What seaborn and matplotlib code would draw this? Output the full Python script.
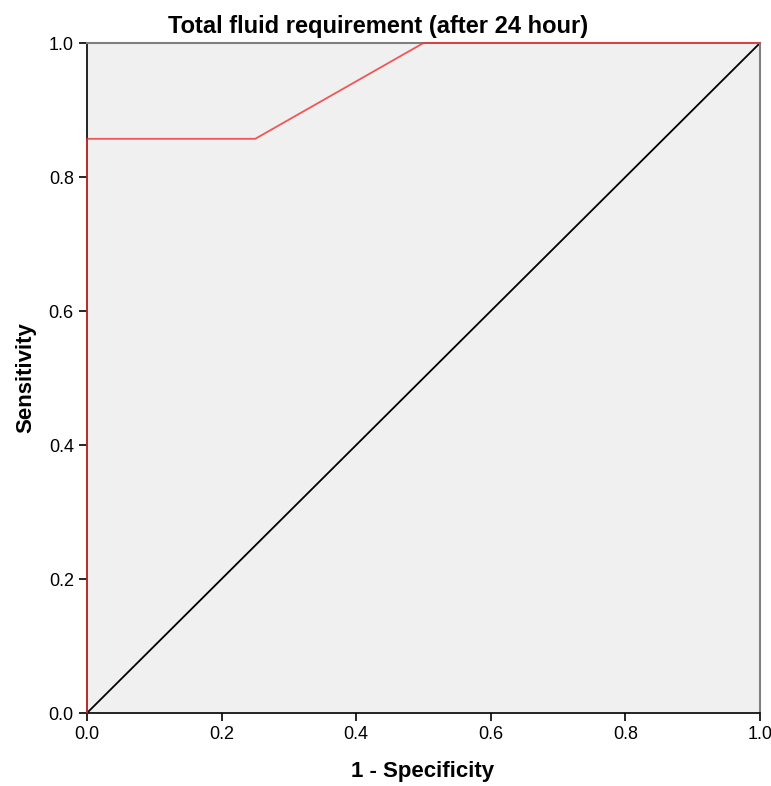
import matplotlib
matplotlib.use("Agg")
import matplotlib.pyplot as plt
import seaborn as sns
import pandas as pd

fpr = [0.0, 0.0, 0.25, 0.5, 1.0]
tpr = [0.0, 0.857, 0.857, 1.0, 1.0]
ref = [0.0, 1.0]
ticks = [0.0, 0.2, 0.4, 0.6, 0.8, 1.0]
tick_labels = ["0.0", "0.2", "0.4", "0.6", "0.8", "1.0"]

sns.set_style("ticks")
plt.rcParams['font.family'] = ['Liberation Sans Narrow', 'Liberation Sans', 'DejaVu Sans']
plt.rcParams['text.color'] = 'black'
plt.rcParams['axes.labelcolor'] = 'black'

fig = plt.figure(figsize=(7.71, 7.86), dpi=100)
ax = fig.add_axes([87/771, 1-713/786, (760-87)/771, (713-43)/786])
ax.set_facecolor("#f0f0f0")

df_roc = pd.DataFrame({"x": fpr, "y": tpr})
df_ref = pd.DataFrame({"x": ref, "y": ref})
sns.lineplot(data=df_ref, x="x", y="y", ax=ax, color="black", linewidth=1.3, sort=False, estimator=None)
sns.lineplot(data=df_roc, x="x", y="y", ax=ax, color="#f03030", linewidth=1.3, sort=False, estimator=None)
for ln in ax.lines:
    ln.set_clip_on(False)
ax.lines[-1].set_zorder(5)
ax.lines[-1].set_alpha(0.8)

ax.set_xlim(0, 1)
ax.set_ylim(0, 1)
ax.set_xticks(ticks)
ax.set_xticklabels(tick_labels)
ax.set_yticks(ticks)
ax.set_yticklabels(tick_labels)
ax.tick_params(axis='both', direction='out', length=6, width=1.2, labelsize=13, colors='black')
for s in ['left', 'bottom']:
    ax.spines[s].set_color('black')
    ax.spines[s].set_linewidth(1.2)
for s in ['top', 'right']:
    ax.spines[s].set_visible(True)
    ax.spines[s].set_color('#808080')
    ax.spines[s].set_linewidth(1.5)

ax.set_xlabel("1 - Specificity", fontsize=16, fontweight='bold', va='center')
ax.set_ylabel("Sensitivity", fontsize=16, fontweight='bold', va='center')
ax.xaxis.set_label_coords((423-87)/673, -(771-713)/670)
ax.yaxis.set_label_coords(-(87-26)/673, 0.5)
fig.text(378/771, 1-26/786, "Total fluid requirement (after 24 hour)", ha='center', va='center',
         fontsize=17, fontweight='bold')

fig.savefig("out.png", dpi=100)
